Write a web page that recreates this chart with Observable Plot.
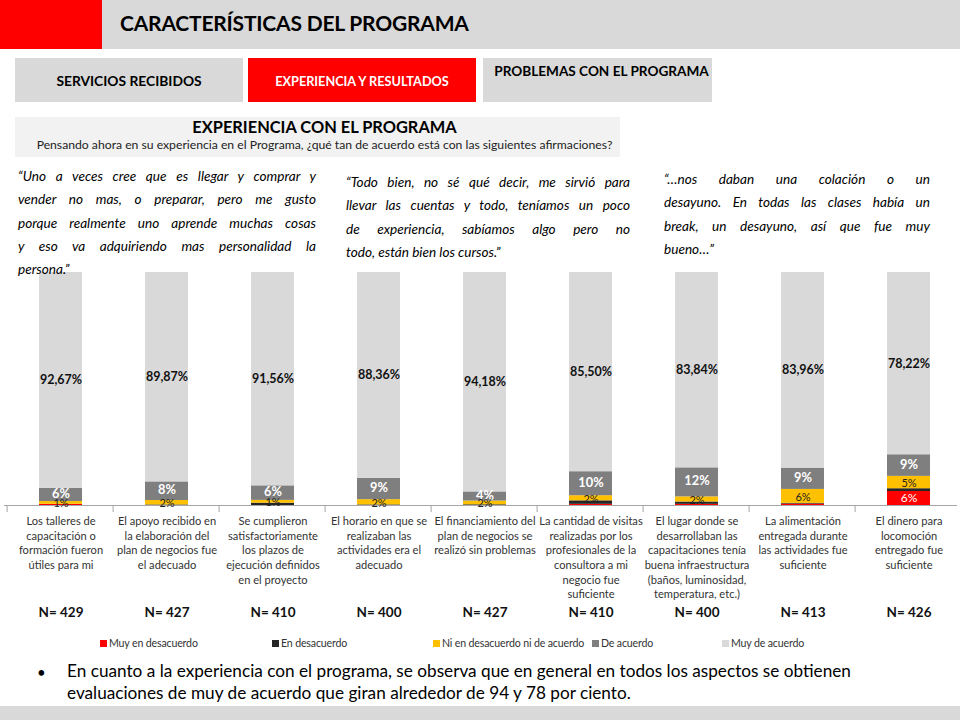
<!DOCTYPE html>
<html>
<head>
<meta charset="utf-8">
<script src="https://cdn.jsdelivr.net/npm/d3@7"></script>
<script src="https://cdn.jsdelivr.net/npm/@observablehq/plot@0.6"></script>
<style>
  html, body { margin: 0; padding: 0; background: #fff; }
  body { width: 960px; height: 720px; position: relative; overflow: hidden; font-family: Lato, "Open Sans", sans-serif; color: #000; }
  .abs { position: absolute; }
  .band { left: 0; top: 0; width: 960px; height: 49px; background: #d9d9d9; }
  .redblock { left: 0; top: 0; width: 102px; height: 49px; background: #ff0000; }
  .title { left: 120px; top: 10px; font-size: 21px; font-weight: 700; color: #000; letter-spacing: -0.2px; }
  .tab { top: 58px; height: 44px; display: flex; justify-content: center; font-weight: 700; white-space: nowrap; }
  .tab1 { left: 15px; width: 228px; background: #d9d9d9; align-items: center; font-size: 13.8px; }
  .tab2 { left: 248px; width: 228px; background: #ff0000; color: #fff; align-items: center; font-size: 12.7px; padding-top: 2px; box-sizing: border-box; }
  .tab3 { left: 483px; width: 229px; background: #d9d9d9; align-items: flex-start; font-size: 13.6px; padding-top: 5px; padding-left: 8px; box-sizing: border-box; }
  .section { left: 15px; top: 117px; width: 605px; height: 40px; background: #f2f2f2; text-align: center; }
  .section .h { font-size: 16.4px; font-weight: 700; margin-top: 0px; line-height: 20px; padding-left: 14px; }
  .section .s { font-size: 12.2px; line-height: 16px; color: #222; white-space: nowrap; padding-left: 14px; }
  .quote { font-style: italic; font-size: 13.6px; line-height: 23.3px; color: #000; z-index: 3; }
  .quote div { text-align: justify; text-align-last: justify; white-space: nowrap; }
  .quote div.last { text-align-last: left; }
  #chart { left: 0; top: 260px; z-index: 1; }
  .legend { top: 637px; left: 0; width: 960px; height: 14px; font-size: 10.6px; color: #333; letter-spacing: -0.15px; }
  .legend .item { position: absolute; top: 0; display: flex; align-items: center; white-space: nowrap; }
  .legend .sw { width: 7px; height: 7px; margin-right: 2px; display: inline-block; }
  .bullet { left: 37px; top: 661px; font-size: 15px; line-height: 22px; color: #000; }
  .bullettext { left: 67px; top: 660px; font-size: 17.2px; line-height: 22px; color: #000; white-space: nowrap; }
  .footer { left: 0; top: 706px; width: 960px; height: 14px; background: #d9d9d9; }
</style>
</head>
<body>
<div class="abs band"></div>
<div class="abs redblock"></div>
<div class="abs title">CARACTERÍSTICAS DEL PROGRAMA</div>

<div class="abs tab tab1">SERVICIOS RECIBIDOS</div>
<div class="abs tab tab2">EXPERIENCIA Y RESULTADOS</div>
<div class="abs tab tab3">PROBLEMAS CON EL PROGRAMA</div>

<div class="abs section">
  <div class="h">EXPERIENCIA CON EL PROGRAMA</div>
  <div class="s">Pensando ahora en su experiencia en el Programa, ¿qué tan de acuerdo está con las siguientes afirmaciones?</div>
</div>

<div class="abs" id="chart"></div>

<div class="abs quote" id="q1" style="left:18px; top:165px; width:298px;"></div>
<div class="abs quote" id="q2" style="left:346px; top:171px; width:284px;"></div>
<div class="abs quote" id="q3" style="left:664px; top:168px; width:266px;"></div>

<div class="abs legend" id="legend"></div>

<div class="abs bullet">•</div>
<div class="abs bullettext">En cuanto a la experiencia con el programa, se observa que en general en todos los aspectos se obtienen<br>evaluaciones de muy de acuerdo que giran alrededor de 94 y 78 por ciento.</div>

<div class="abs footer"></div>

<script>
// ---------------- DATA ----------------
const categories = [
  "Talleres", "Apoyo plan", "Plazos", "Horario", "Financiamiento",
  "Visitas", "Lugar", "Alimentación", "Locomoción"
];
const tickLabels = [
  "Los talleres de\ncapacitación o\nformación fueron\nútiles para mi",
  "El apoyo recibido en\nla elaboración del\nplan de negocios fue\nel adecuado",
  "Se cumplieron\nsatisfactoriamente\nlos plazos de\nejecución definidos\nen el proyecto",
  "El horario en que se\nrealizaban las\nactividades era el\nadecuado",
  "El financiamiento del\nplan de negocios se\nrealizó sin problemas",
  "La cantidad de visitas\nrealizadas por los\nprofesionales de la\nconsultora a mi\nnegocio fue\nsuficiente",
  "El lugar donde se\ndesarrollaban las\ncapacitaciones tenía\nbuena infraestructura\n(baños, luminosidad,\ntemperatura, etc.)",
  "La alimentación\nentregada durante\nlas actividades fue\nsuficiente",
  "El dinero para\nlocomoción\nentregado fue\nsuficiente"
];
const levels = ["Muy en desacuerdo", "En desacuerdo", "Ni en desacuerdo ni de acuerdo", "De acuerdo", "Muy de acuerdo"];
const muyEnDesacuerdo = [0.5, 0, 0, 0, 0, 0.5, 0.5, 0.6, 6.0];
const enDesacuerdo    = [0, 0.23, 1.0, 0.25, 0.3, 1.5, 1.0, 0.3, 1.2];
const niNi            = [1.2, 1.9, 1.2, 2.25, 1.6, 2.2, 2.2, 6.0, 5.3];
const deAcuerdo       = [5.63, 8.0, 6.24, 9.14, 3.92, 10.3, 12.46, 9.14, 9.28];
const muyDeAcuerdo    = [92.67, 89.87, 91.56, 88.36, 94.18, 85.50, 83.84, 83.96, 78.22];
const nValues = [429, 427, 410, 400, 427, 410, 400, 413, 426];
const levelColors = ["#ff0000", "#262626", "#ffc000", "#7f7f7f", "#d9d9d9"];

const quote1 = ["“Uno a veces cree que es llegar y comprar y", "vender no mas, o preparar, pero me gusto", "porque realmente uno aprende muchas cosas", "y eso va adquiriendo mas personalidad la", "persona.”"];
const quote2 = ["“Todo bien, no sé qué decir, me sirvió para", "llevar las cuentas y todo, teníamos un poco", "de experiencia, sabíamos algo pero no", "todo, están bien los cursos.”"];
const quote3 = ["“…nos daban una colación o un", "desayuno. En todas las clases había un", "break, un desayuno, así que fue muy", "bueno…”"];

// ---------------- QUOTES ----------------
function fillQuote(id, lines) {
  const el = document.getElementById(id);
  lines.forEach((t, i) => {
    const d = document.createElement("div");
    d.textContent = t;
    if (i === lines.length - 1) d.className = "last";
    el.appendChild(d);
  });
}
fillQuote("q1", quote1);
fillQuote("q2", quote2);
fillQuote("q3", quote3);

// ---------------- TABLE ----------------
const seriesByLevel = [muyEnDesacuerdo, enDesacuerdo, niNi, deAcuerdo, muyDeAcuerdo];
const rows = [];
categories.forEach((c, i) => {
  levels.forEach((lv, j) => rows.push({cat: c, level: lv, value: seriesByLevel[j][i]}));
});
const labelOf = Object.fromEntries(categories.map((c, i) => [c, tickLabels[i]]));
const nRows = categories.map((c, i) => ({cat: c, n: nValues[i]}));

const pct = v => Math.round(v) + "%";
const stackOpts = {x: "cat", y: "value", z: "level", order: levels};

const xRange = [4, 965];
function boundaryTicks(index, scales) {
  const x = scales.x, y0 = scales.y(0);
  const step = (xRange[1] - xRange[0]) / categories.length;
  let bw = x.bandwidth;
  if (typeof bw === "function") bw = bw();
  if (typeof bw !== "number") bw = step * 0.41;
  const g = d3.create("svg:g").attr("stroke", "#a6a6a6");
  const xs = categories.map(c => x(c) + bw / 2 - step / 2);
  xs.push(xs[xs.length - 1] + step);
  xs.forEach(v => g.append("line").attr("x1", v).attr("x2", v).attr("y1", y0).attr("y2", y0 + 7));
  return g.node();
}

const chart = Plot.plot({
  width: 960,
  height: 380,
  marginTop: 12,
  marginBottom: 135,
  marginLeft: 4,
  marginRight: 3,
  style: {fontFamily: "Lato, 'Open Sans', sans-serif", background: "transparent", overflow: "visible"},
  x: {domain: categories, range: xRange, paddingInner: 0.59, paddingOuter: 0.295, axis: null},
  y: {domain: [0, 100], axis: null},
  color: {domain: levels, range: levelColors},
  marks: [
    Plot.barY(rows, {...stackOpts, fill: "level"}),
    Plot.ruleY([0], {stroke: "#a6a6a6"}),
    boundaryTicks,
    // Muy de acuerdo labels
    Plot.text(rows, Plot.stackY({...stackOpts,
      text: d => d.level === levels[4] ? d.value.toFixed(2).replace(".", ",") + "%" : null,
      fontWeight: 700, fontSize: 12.5, fill: "#111"})),
    // De acuerdo labels
    Plot.text(rows, Plot.stackY({...stackOpts,
      text: d => d.level === levels[3] ? pct(d.value) : null,
      fontWeight: 700, fontSize: 12.8, fill: "#fff", dy: -1})),
    // Ni ni labels
    Plot.text(rows, Plot.stackY({...stackOpts,
      text: d => d.level === levels[2] ? pct(d.value) : null,
      fontSize: 11, fill: "#222", dy: 1})),
    // Muy en desacuerdo labels (only sizeable segments)
    Plot.text(rows, Plot.stackY({...stackOpts,
      text: d => d.level === levels[0] && d.value >= 1 ? pct(d.value) : null,
      fontSize: 12, fill: "#fff"})),
    // Category labels
    Plot.text(categories, {x: d => d, y: () => 0, text: d => labelOf[d], dy: 9, lineAnchor: "top",
      fontSize: 11.1, lineHeight: 1.32, fill: "#333"}),
    // N labels
    Plot.text(nRows, {x: "cat", y: () => 0, text: d => "N= " + d.n, dy: 107,
      fontSize: 13.5, fontWeight: 700, fill: "#111"})
  ]
});
document.getElementById("chart").appendChild(chart);

// ---------------- LEGEND ----------------
const legendLefts = [100, 272, 433, 592, 722];
const lg = document.getElementById("legend");
levels.forEach((lv, i) => {
  const it = document.createElement("div");
  it.className = "item";
  it.style.left = legendLefts[i] + "px";
  const sw = document.createElement("span");
  sw.className = "sw";
  sw.style.background = levelColors[i];
  it.appendChild(sw);
  it.appendChild(document.createTextNode(lv));
  lg.appendChild(it);
});
</script>
</body>
</html>
